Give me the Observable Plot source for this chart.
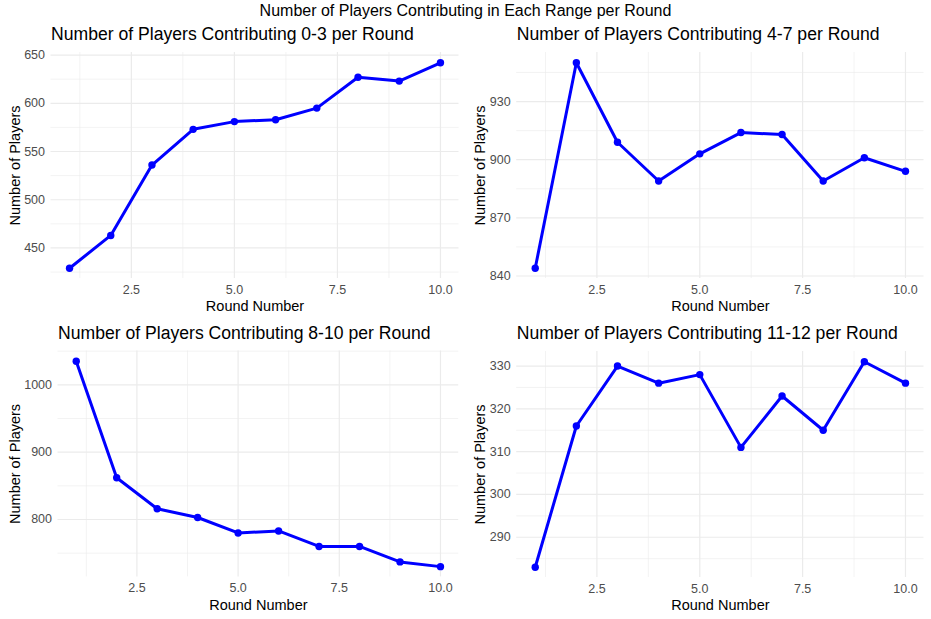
<!DOCTYPE html>
<html>
<head>
<meta charset="utf-8">
<script src="https://cdn.jsdelivr.net/npm/d3@7"></script>
<script src="https://cdn.jsdelivr.net/npm/@observablehq/plot@0.6"></script>
<style>
  html, body { margin: 0; padding: 0; background: #fff; }
  #wrap { position: relative; width: 931px; height: 619px; background: #fff; font-family: "Liberation Sans", Arial, Helvetica, sans-serif; overflow: hidden; }
  #main-title { position: absolute; left: 0; top: 2px; width: 931px; text-align: center; font-size: 16px; line-height: 18px; color: #000; }
  .panel { position: absolute; }
  .panel svg { display: block; }
</style>
</head>
<body>
<div id="wrap">
  <div id="main-title">Number of Players Contributing in Each Range per Round</div>
</div>
<script>
// ---- data ----
const rounds = [1, 2, 3, 4, 5, 6, 7, 8, 9, 10];
const range0to3 = [429, 463, 536, 573, 581, 583, 595, 627, 623, 642];
const range4to7 = [844, 950, 909, 889, 903, 914, 913, 889, 901, 894];
const range8to10 = [1035, 862, 816, 803, 780, 783, 760, 760, 737, 730];
const range11to12 = [283, 316, 330, 326, 328, 311, 323, 315, 331, 326];

const xMajorTicks = [2.5, 5, 7.5, 10];
const xMinorTicks = [1.25, 3.75, 6.25, 8.75];
const yMajor0to3 = [450, 500, 550, 600, 650];
const yMinor0to3 = [425, 475, 525, 575, 625];
const yMajor4to7 = [840, 870, 900, 930];
const yMinor4to7 = [855, 885, 915, 945];
const yMajor8to10 = [800, 900, 1000];
const yMinor8to10 = [750, 850, 950, 1050];
const yMajor11to12 = [290, 300, 310, 320, 330];
const yMinor11to12 = [285, 295, 305, 315, 325];

const titles = [
  "Number of Players Contributing 0-3 per Round",
  "Number of Players Contributing 4-7 per Round",
  "Number of Players Contributing 8-10 per Round",
  "Number of Players Contributing 11-12 per Round"
];

const FONT = '"Liberation Sans", Arial, Helvetica, sans-serif';

function expand(arr, f) {
  const lo = d3.min(arr), hi = d3.max(arr), r = hi - lo;
  return [lo - f * r, hi + f * r];
}

function panel(cfg) {
  const data = rounds.map((r, i) => ({round: r, value: cfg.values[i]}));
  const xDomain = expand(rounds, 0.05);
  const yDomain = expand(cfg.values, 0.05);
  const chart = Plot.plot({
    width: cfg.width,
    height: cfg.height,
    marginLeft: cfg.ml,
    marginRight: cfg.mr,
    marginTop: cfg.mt,
    marginBottom: cfg.mb,
    style: {fontFamily: FONT, background: "transparent", overflow: "visible"},
    x: {domain: xDomain},
    y: {domain: yDomain},
    marks: [
      Plot.gridX(xMinorTicks, {stroke: "#ebebeb", strokeOpacity: 1, strokeWidth: 0.6}),
      Plot.gridY(cfg.yMinor, {stroke: "#ebebeb", strokeOpacity: 1, strokeWidth: 0.6}),
      Plot.gridX(xMajorTicks, {stroke: "#ebebeb", strokeOpacity: 1, strokeWidth: 1.2}),
      Plot.gridY(cfg.yMajor, {stroke: "#ebebeb", strokeOpacity: 1, strokeWidth: 1.2}),
      Plot.axisX(xMajorTicks, {tickSize: 0, tickPadding: 6.5, tickFormat: d3.format(".1f"), label: null, fontSize: 12.5, fill: "#4d4d4d"}),
      Plot.axisY(cfg.yMajor, {tickSize: 0, tickPadding: 6, tickFormat: d3.format("d"), label: null, fontSize: 12.5, fill: "#4d4d4d"}),
      Plot.line(data, {x: "round", y: "value", stroke: "blue", strokeWidth: 3}),
      Plot.dot(data, {x: "round", y: "value", fill: "blue", r: 3.7}),
      Plot.text([cfg.title], {frameAnchor: "top-left", text: d => d, textAnchor: "start", lineAnchor: "bottom", dy: -12.5, fontSize: 17.6, fill: "#000"}),
      Plot.text(["Round Number"], {frameAnchor: "bottom", text: d => d, textAnchor: "middle", lineAnchor: "bottom", dy: cfg.xTitleDy, fontSize: 14.5, fill: "#000"}),
      Plot.text(["Number of Players"], {frameAnchor: "left", text: d => d, rotate: -90, textAnchor: "middle", lineAnchor: "bottom", dx: cfg.yTitleX - cfg.ml, fontSize: 14.5, fill: "#000"})
    ]
  });
  const div = document.createElement("div");
  div.className = "panel";
  div.style.left = cfg.left + "px";
  div.style.top = cfg.top + "px";
  div.appendChild(chart);
  document.getElementById("wrap").appendChild(div);
}

panel({values: range0to3, yMajor: yMajor0to3, yMinor: yMinor0to3, title: titles[0],
  left: 0, top: 20, width: 465, height: 298, ml: 50.5, mr: 6.5, mt: 32, mb: 40, xTitleDy: 32, yTitleX: 19});
panel({values: range4to7, yMajor: yMajor4to7, yMinor: yMinor4to7, title: titles[1],
  left: 465, top: 20, width: 466, height: 298, ml: 51.2, mr: 7.5, mt: 32, mb: 40, xTitleDy: 32, yTitleX: 19});
panel({values: range8to10, yMajor: yMajor8to10, yMinor: yMinor8to10, title: titles[2],
  left: 0, top: 318, width: 465, height: 301, ml: 57.5, mr: 6.8, mt: 32.5, mb: 42.6, xTitleDy: 32.6, yTitleX: 19});
panel({values: range11to12, yMajor: yMajor11to12, yMinor: yMinor11to12, title: titles[3],
  left: 465, top: 318, width: 466, height: 301, ml: 51.2, mr: 7.5, mt: 33, mb: 42, xTitleDy: 32, yTitleX: 19});
</script>
</body>
</html>
